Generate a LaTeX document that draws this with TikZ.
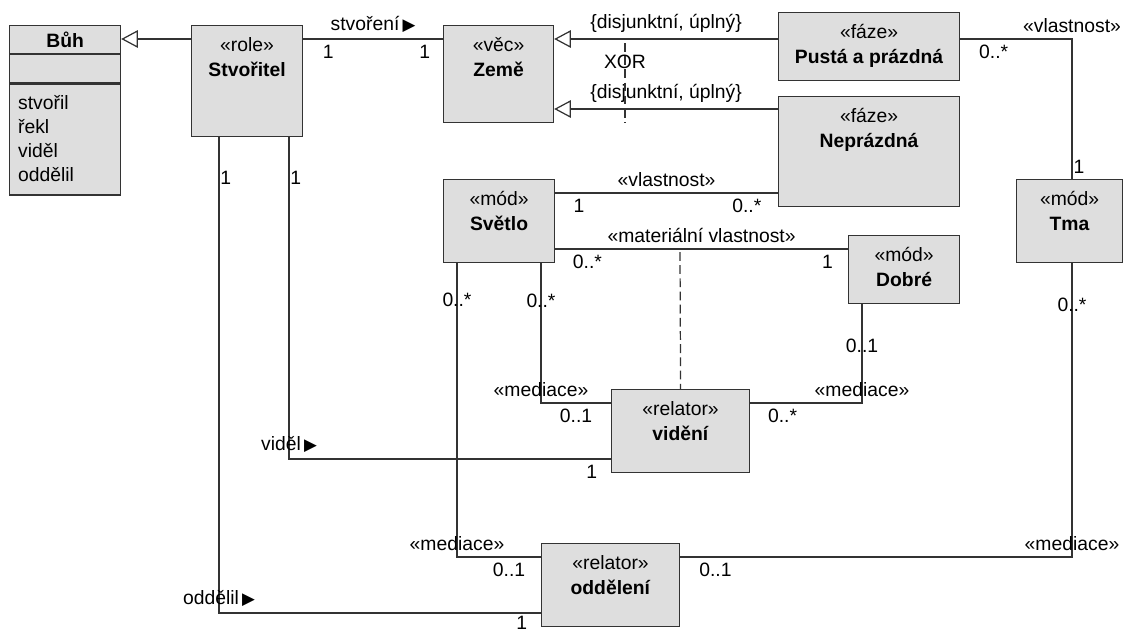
\documentclass[tikz,border=0pt]{standalone}
\usepackage{fontspec}
\setmainfont{Liberation Sans}
\newfontfamily\symfont{DejaVu Sans}
\usetikzlibrary{arrows.meta,positioning}
\definecolor{boxfill}{HTML}{DEDEDE}
\definecolor{linecol}{HTML}{333333}
\newcommand\rtri{{\symfont\fontsize{9.5}{9.5}\selectfont ▶}}
\tikzset{
  cls/.style={draw=linecol, fill=boxfill, line width=0.7pt, anchor=north west, inner sep=0pt},
  clstext/.style={anchor=north, align=center, inner sep=0pt, yshift=-7pt},
  conn/.style={draw=linecol, line width=0.7pt},
  gen/.style={conn, -{Triangle[open, length=9.5pt, width=10pt, fill=white]}},
  xordash/.style={conn, dash pattern=on 5pt off 2.5pt},
  onv/.style={anchor=west, inner xsep=0.5pt},
}
\begin{document}
\begin{tikzpicture}[x=0.02cm, y=-0.02cm, font=\fontsize{11}{14}\selectfont]
  \useasboundingbox (0,0) rectangle (1123,633);

  % 绘制 Bůh 类（三个分栏）
  \node[cls, minimum width=2.22cm, minimum height=0.56cm] (buh) at (9,25) {};
  \node[cls, minimum width=2.22cm, minimum height=0.56cm, below=0pt of buh] (buhmid) {};
  \node[cls, minimum width=2.22cm, minimum height=2.22cm, below=0pt of buhmid] (buhattr) {};
  \node[font=\fontsize{11}{14}\selectfont\bfseries] (buhname) at (buh) {Bůh};
  \node[anchor=north west, align=left, inner xsep=5pt, inner ysep=6.5pt,
        font=\fontsize{11}{13.7}\selectfont] (buhops) at (buhattr.north west)
        {stvořil\\řekl\\viděl\\oddělil};

  % 绘制其余的框
  \node[cls, minimum width=2.22cm, minimum height=2.22cm] (stv) at (191,25) {};
  \node[clstext] (stvname) at (stv.north) {«role»\\\textbf{Stvořitel}};
  \node[cls, minimum width=2.2cm, minimum height=1.94cm] (zeme) at (443,25) {};
  \node[clstext] (zemename) at (zeme.north) {«věc»\\\textbf{Země}};
  \node[cls, minimum width=3.62cm, minimum height=1.36cm] (pusta) at (778,12) {};
  \node[clstext] (pustaname) at (pusta.north) {«fáze»\\\textbf{Pustá a prázdná}};
  \node[cls, minimum width=3.62cm, minimum height=2.2cm] (nepr) at (778,96) {};
  \node[clstext] (neprname) at (nepr.north) {«fáze»\\\textbf{Neprázdná}};
  \node[cls, minimum width=2.22cm, minimum height=1.66cm] (svetlo) at (443,179) {};
  \node[clstext] (svetloname) at (svetlo.north) {«mód»\\\textbf{Světlo}};
  \node[cls, minimum width=2.22cm, minimum height=1.36cm] (dobre) at (848,235) {};
  \node[clstext] (dobrename) at (dobre.north) {«mód»\\\textbf{Dobré}};
  \node[cls, minimum width=2.12cm, minimum height=1.66cm] (tma) at (1016,179) {};
  \node[clstext] (tmaname) at (tma.north) {«mód»\\\textbf{Tma}};
  \node[cls, minimum width=2.76cm, minimum height=1.66cm] (videni) at (611,389) {};
  \node[clstext] (videniname) at (videni.north) {«relator»\\\textbf{vidění}};
  \node[cls, minimum width=2.76cm, minimum height=1.66cm] (oddeleni) at (541,543) {};
  \node[clstext] (oddeleniname) at (oddeleni.north) {«relator»\\\textbf{oddělení}};

  % 泛化关系
  \draw[gen] (stv.west |- 0,39) -- (buh.east |- 0,39);
  \draw[gen] (pusta.west |- 0,39) -- node[above]{\{disjunktní, úplný\}} (zeme.east |- 0,39);
  \draw[gen] (nepr.west |- 0,109) -- node[above]{\{disjunktní, úplný\}} (zeme.east |- 0,109);

  % XOR 虚线
  \coordinate (xortop) at (625,43);
  \draw[xordash] (xortop) -- node[pos=0.24]{XOR} (xortop |- zeme.south);

  % stvoření
  \draw[conn] (stv.east |- 0,39) -- node[above]{stvoření\,\rtri}
    node[below, pos=0.18]{1} node[below, pos=0.87]{1} (zeme.west |- 0,39);

  % vlastnost
  \draw[conn] (svetlo.east |- 0,193) -- node[above]{«vlastnost»}
    node[below, pos=0.107]{1} node[below, pos=0.86]{0..*} (nepr.west |- 0,193);
  \draw[conn] (pusta.east |- 0,39) -- node[below, pos=0.3]{0..*} (1072,39)
    node[above]{«vlastnost»} -- node[onv, pos=0.91]{1} (tma.north -| 1072,0);

  % materiální vlastnost
  \draw[conn] (svetlo.east |- 0,249) -- node[above]{«materiální vlastnost»}
    node[below, pos=0.11]{0..*} node[below, pos=0.93]{1} (dobre.west |- 0,249);
  \coordinate (mattop) at (680,252);
  \draw[xordash] (mattop) -- (videni.north);

  % mediace
  \draw[conn] (svetlo.south -| 541,0) -- node[pos=0.27]{0..*} (541,403)
    node[above]{«mediace»} -- node[below]{0..1} (videni.west |- 0,403);
  \draw[conn] (dobre.south -| 862,0) -- node[pos=0.42]{0..1} (862,403)
    node[above]{«mediace»} -- node[below, pos=0.71]{0..*} (videni.east |- 0,403);
  \draw[conn] (svetlo.south -| 457,0) -- node[pos=0.125]{0..*} (457,557)
    node[above]{«mediace»} -- node[below, pos=0.62]{0..1} (oddeleni.west |- 0,557);
  \draw[conn] (oddeleni.east |- 0,557) -- node[below, pos=0.09]{0..1} (1072,557)
    node[above]{«mediace»} -- node[pos=0.86]{0..*} (tma.south -| 1072,0);

  % viděl, oddělil
  \draw[conn] (stv.south -| 289,0) -- node[onv, pos=0.127]{1} (289,459)
    node[above]{viděl\,\rtri} -- node[below, pos=0.94]{1} (videni.west |- 0,459);
  \draw[conn] (stv.south -| 219,0) -- node[onv, pos=0.086]{1} (219,613)
    node[above]{oddělil\,\rtri} -- node[below, inner ysep=1.5pt, pos=0.94]{1} (oddeleni.west |- 0,613);
\end{tikzpicture}
\end{document}
